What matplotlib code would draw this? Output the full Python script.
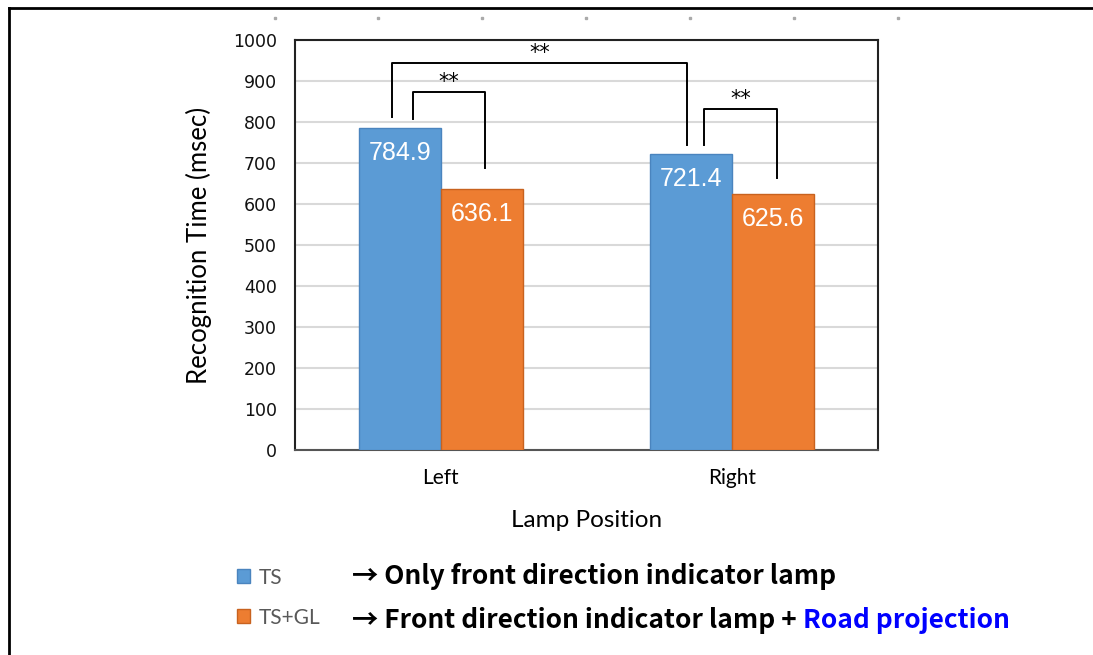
import matplotlib
matplotlib.use("Agg")
import matplotlib.pyplot as plt
from matplotlib.lines import Line2D
import numpy as np

# data
positions = ["Left", "Right"]
ts = [784.9, 721.4]
ts_gl = [636.1, 625.6]
series_names = ["TS", "TS+GL"]
yticks = [0, 100, 200, 300, 400, 500, 600, 700, 800, 900, 1000]

# significance brackets: (x_left, x_right, y_left_end, y_right_end, y_top, label)
brackets = [
    (-0.167, 0.845, 812, 744, 944, "**"),
    (-0.095, 0.152, 807, 688, 873, "**"),
    (0.902, 1.153, 744, 663, 832, "**"),
]

blue = "#5B9BD5"
orange = "#ED7D31"

fig = plt.figure(figsize=(10.93, 6.55), dpi=100)
W, H = 1093, 655
ax = fig.add_axes([295 / W, 1 - 450 / H, (878 - 295) / W, (450 - 40) / H])

x = np.arange(len(positions))
bw = 0.282
b1 = ax.bar(x - bw / 2, ts, bw, color=blue, edgecolor="#4A84BE", linewidth=1, label=series_names[0], zorder=3)
b2 = ax.bar(x + bw / 2, ts_gl, bw, color=orange, edgecolor="#C8621F", linewidth=1, label=series_names[1], zorder=3)

for bars in (b1, b2):
    for r in bars:
        ax.annotate(f"{r.get_height():.1f}", (r.get_x() + r.get_width() / 2, r.get_height()),
                    xytext=(0, -18), textcoords="offset points", ha="center", va="center",
                    color="white", fontsize=18, family="Liberation Sans", zorder=4)

ax.set_xlim(-0.5, 1.5)
ax.set_ylim(0, 1000)
ax.set_yticks(yticks)
ax.set_xticks(x)
ax.set_xticklabels(positions, family="Lato", fontsize=15)
ax.tick_params(axis="y", length=0, pad=13, labelsize=12.5, colors="#111111")
ax.tick_params(axis="x", length=0, pad=13)
ax.grid(axis="y", color="#D9D9D9", linewidth=1.5, zorder=0)
for s in ax.spines.values():
    s.set_linewidth(1.5)
    s.set_color("#222222")
ax.spines["bottom"].set_color("#555555")

ax.set_ylabel("Recognition Time (msec)", family="Lato", fontsize=18.5, labelpad=15)
ax.set_xlabel("Lamp Position", family="Lato", fontsize=17.5, labelpad=16)

for xl, xr, yl, yr, yt, lab in brackets:
    ax.plot([xl, xl, xr, xr], [yl, yt, yt, yr], color="black", linewidth=1.4, zorder=5, clip_on=False)
    ax.text((xl + xr) / 2, yt, lab, ha="center", va="bottom", fontsize=15, zorder=5)

# frame edges and small dots at top
fig.add_artist(Line2D([9 / W, 9 / W], [0, 1 - 8 / H], color="black", linewidth=2))
fig.add_artist(Line2D([9 / W, 1], [1 - 8 / H, 1 - 8 / H], color="black", linewidth=2))
for px in [275, 378, 482, 586, 690, 794, 898]:
    fig.add_artist(Line2D([px / W], [1 - 18 / H], marker="s", markersize=1.5, color="#AAAAAA", linestyle="none"))

# legend
leg = fig.legend(handles=[b1, b2], loc="upper left", bbox_to_anchor=(218 / W, 1 - 549 / H),
                 frameon=False, handlelength=0.65, handleheight=0.65,
                 labelspacing=0.95, handletextpad=0.4, prop={"family": "Lato", "size": 15})
for t in leg.get_texts():
    t.set_color("#595959")

font_b = dict(fontsize=18.9, fontweight="bold", family=["Noto Sans CJK KR", "DejaVu Sans"])
fig.text(352 / W, 1 - 576 / H, "→ Only front direction indicator lamp", va="center", **font_b)
t2 = fig.text(352 / W, 1 - 620 / H, "→ Front direction indicator lamp + ", va="center", **font_b)
ax.annotate("Road projection", xy=(1, 0), xycoords=t2, va="bottom", ha="left", color="#0000FF", **font_b)

fig.savefig("out.png", dpi=100)
